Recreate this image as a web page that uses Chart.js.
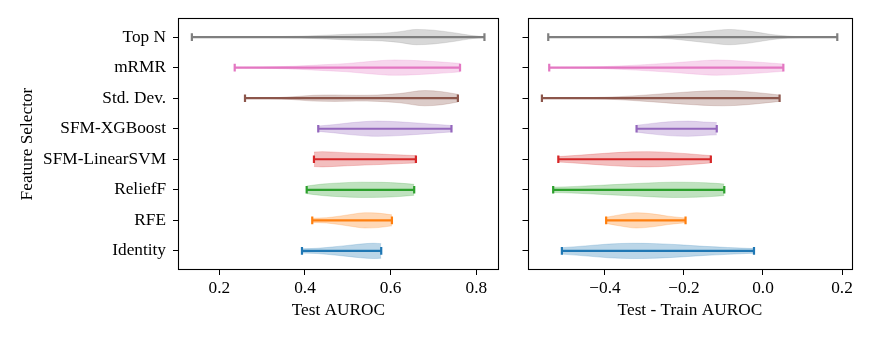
<!DOCTYPE html>

<head>
    <meta charset="UTF-8">
    <title>Feature selector violins</title>
    <script src="https://cdn.jsdelivr.net/npm/chart.js"></script>
    <style>
        body {
            margin: 0;
            background: white;
        }
        canvas {
            position: absolute;
            top: 0;
        }
    </style>
</head>

<body>
    <canvas id="chartTest" width="505" height="343" style="left: 0px"></canvas>
    <canvas id="chartGap" width="367" height="343" style="left: 505px"></canvas>
    <script>
        const selectors = ['Top N', 'mRMR', 'Std. Dev.', 'SFM-XGBoost', 'SFM-LinearSVM', 'ReliefF', 'RFE', 'Identity'];
        const colors = ['#7f7f7f', '#e377c2', '#8c564b', '#9467bd', '#d62728', '#2ca02c', '#ff7f0e', '#1f77b4'];

        // violin outlines: [value, relative half width]
        const testProfiles = [
            [[0.136, 0.02], [0.2, 0.02], [0.3, 0.05], [0.39, 0.12], [0.45, 0.25], [0.52, 0.42], [0.58, 0.5], [0.62, 0.7], [0.66, 1.0], [0.7, 0.9], [0.75, 0.55], [0.79, 0.2], [0.819, 0.05]],
            [[0.236, 0.03], [0.3, 0.07], [0.38, 0.2], [0.45, 0.4], [0.5, 0.55], [0.55, 0.8], [0.61, 1.0], [0.66, 0.92], [0.7, 0.8], [0.74, 0.65], [0.762, 0.55]],
            [[0.26, 0.02], [0.32, 0.05], [0.37, 0.18], [0.42, 0.38], [0.47, 0.42], [0.52, 0.38], [0.57, 0.42], [0.62, 0.6], [0.68, 1.0], [0.72, 0.85], [0.757, 0.5]],
            [[0.431, 0.35], [0.47, 0.55], [0.51, 0.8], [0.57, 1.0], [0.62, 0.9], [0.67, 0.72], [0.71, 0.55], [0.742, 0.42]],
            [[0.421, 0.95], [0.44, 1.0], [0.48, 0.9], [0.52, 0.8], [0.56, 0.72], [0.6, 0.62], [0.63, 0.55], [0.659, 0.48]],
            [[0.404, 0.5], [0.44, 0.75], [0.48, 0.9], [0.53, 1.0], [0.58, 0.98], [0.62, 0.88], [0.655, 0.72]],
            [[0.417, 0.28], [0.45, 0.35], [0.48, 0.55], [0.51, 0.8], [0.54, 1.0], [0.57, 0.95], [0.603, 0.72]],
            [[0.393, 0.28], [0.43, 0.35], [0.47, 0.55], [0.5, 0.72], [0.53, 0.9], [0.56, 1.0], [0.578, 0.95]]
        ];
        const gapProfiles = [
            [[-0.5435, 0.02], [-0.45, 0.03], [-0.35, 0.06], [-0.26, 0.15], [-0.2, 0.4], [-0.14, 0.75], [-0.085, 1.0], [-0.03, 0.75], [0.02, 0.35], [0.07, 0.1], [0.13, 0.03], [0.188, 0.02]],
            [[-0.541, 0.03], [-0.47, 0.06], [-0.41, 0.12], [-0.35, 0.25], [-0.29, 0.42], [-0.23, 0.62], [-0.17, 0.85], [-0.117, 1.0], [-0.06, 0.88], [0.0, 0.68], [0.0515, 0.48]],
            [[-0.5595, 0.03], [-0.48, 0.06], [-0.4, 0.12], [-0.33, 0.3], [-0.26, 0.55], [-0.2, 0.78], [-0.1, 1.0], [-0.04, 0.85], [0.0, 0.65], [0.042, 0.42]],
            [[-0.32, 0.45], [-0.28, 0.7], [-0.24, 0.9], [-0.19, 1.0], [-0.15, 0.88], [-0.117, 0.8]],
            [[-0.518, 0.35], [-0.46, 0.55], [-0.4, 0.78], [-0.33, 0.97], [-0.29, 1.0], [-0.24, 0.9], [-0.19, 0.72], [-0.132, 0.48]],
            [[-0.531, 0.35], [-0.47, 0.45], [-0.41, 0.6], [-0.35, 0.75], [-0.29, 0.9], [-0.23, 1.0], [-0.17, 0.97], [-0.12, 0.85], [-0.098, 0.75]],
            [[-0.397, 0.4], [-0.36, 0.75], [-0.32, 1.0], [-0.28, 0.85], [-0.24, 0.55], [-0.196, 0.3]],
            [[-0.509, 0.42], [-0.45, 0.65], [-0.39, 0.9], [-0.33, 1.0], [-0.27, 0.95], [-0.21, 0.8], [-0.15, 0.6], [-0.09, 0.45], [-0.0228, 0.3]]
        ];

        const testTicks = [0.2, 0.4, 0.6, 0.8];
        const gapTicks = [-0.4, -0.2, 0.0, 0.2];
        const HALF_WIDTH = 0.25;

        Chart.defaults.font.family = "'Liberation Serif', 'Times New Roman', serif";
        Chart.defaults.font.size = 17.3;
        Chart.defaults.color = '#000';

        function fade(hex, a) {
            const n = parseInt(hex.slice(1), 16);
            return `rgba(${(n >> 16) & 255}, ${(n >> 8) & 255}, ${n & 255}, ${a})`;
        }

        function buildDatasets(profiles) {
            const sets = [];
            profiles.forEach((prof, i) => {
                const common = {
                    showLine: true,
                    pointRadius: 0,
                    borderWidth: 0.8,
                    borderColor: fade(colors[i], 0.25),
                    cubicInterpolationMode: 'monotone',
                    backgroundColor: fade(colors[i], 0.3),
                    order: 2
                };
                sets.push({ ...common, data: prof.map(p => ({ x: p[0], y: i - p[1] * HALF_WIDTH })), fill: false });
                sets.push({ ...common, data: prof.map(p => ({ x: p[0], y: i + p[1] * HALF_WIDTH })), fill: '-1' });
            });
            profiles.forEach((prof, i) => {
                sets.push({
                    data: [{ x: prof[0][0], y: i }, { x: prof[prof.length - 1][0], y: i }],
                    showLine: true,
                    borderColor: colors[i],
                    borderWidth: 2.2,
                    pointStyle: 'line',
                    pointRadius: 3.8,
                    pointRotation: 90,
                    pointBorderColor: colors[i],
                    pointBorderWidth: 2.2,
                    fill: false,
                    order: 0
                });
            });
            return sets;
        }

        const frame = {
            id: 'frame',
            afterDraw(chart) {
                const { ctx, chartArea: a } = chart;
                ctx.save();
                ctx.strokeStyle = '#000';
                ctx.lineWidth = 1.1;
                ctx.strokeRect(Math.round(a.left) + 0.5, Math.round(a.top) + 0.5,
                    Math.round(a.right - a.left) - 1, Math.round(a.bottom - a.top) - 1);
                ctx.restore();
            }
        };

        function fmt(v) {
            return v.toFixed(1).replace('-', '\u2212');
        }

        function makeChart(canvas, profiles, ticks, xmin, xmax, title, yWidth, padRight, showLabels) {
            return new Chart(canvas, {
                type: 'scatter',
                data: { datasets: buildDatasets(profiles) },
                options: {
                    responsive: false,
                    animation: false,
                    layout: { padding: { top: 18, right: padRight, left: 0, bottom: 0 } },
                    plugins: { legend: { display: false }, tooltip: { enabled: false } },
                    scales: {
                        x: {
                            type: 'linear',
                            min: xmin,
                            max: xmax,
                            afterBuildTicks: s => { s.ticks = ticks.map(v => ({ value: v })); },
                            afterFit: s => { s.height = 73; },
                            ticks: { callback: v => fmt(v), padding: 3, maxRotation: 0 },
                            grid: { drawOnChartArea: false, drawTicks: true, tickLength: 5, tickColor: '#000' },
                            border: { display: false },
                            title: { display: true, text: title, padding: { top: 0, bottom: 22.6 } }
                        },
                        y: {
                            type: 'linear',
                            reverse: true,
                            min: -0.625,
                            max: 7.625,
                            afterBuildTicks: s => { s.ticks = selectors.map((_, i) => ({ value: i })); },
                            afterFit: s => { s.width = yWidth; },
                            ticks: { callback: v => showLabels ? selectors[v] : '', padding: 7 },
                            grid: { drawOnChartArea: false, drawTicks: true, tickLength: 5, tickColor: '#000' },
                            border: { display: false },
                            title: { display: showLabels, text: 'Feature Selector', padding: { top: 16.6, bottom: 0 } }
                        }
                    }
                },
                plugins: [frame]
            });
        }

        makeChart(document.getElementById('chartTest'), testProfiles, testTicks, 0.1036, 0.8525, 'Test AUROC', 178, 3, true);
        makeChart(document.getElementById('chartGap'), gapProfiles, gapTicks, -0.596, 0.226, 'Test - Train AUROC', 22.5, 19.7, false);
    </script>
</body>

</html>
